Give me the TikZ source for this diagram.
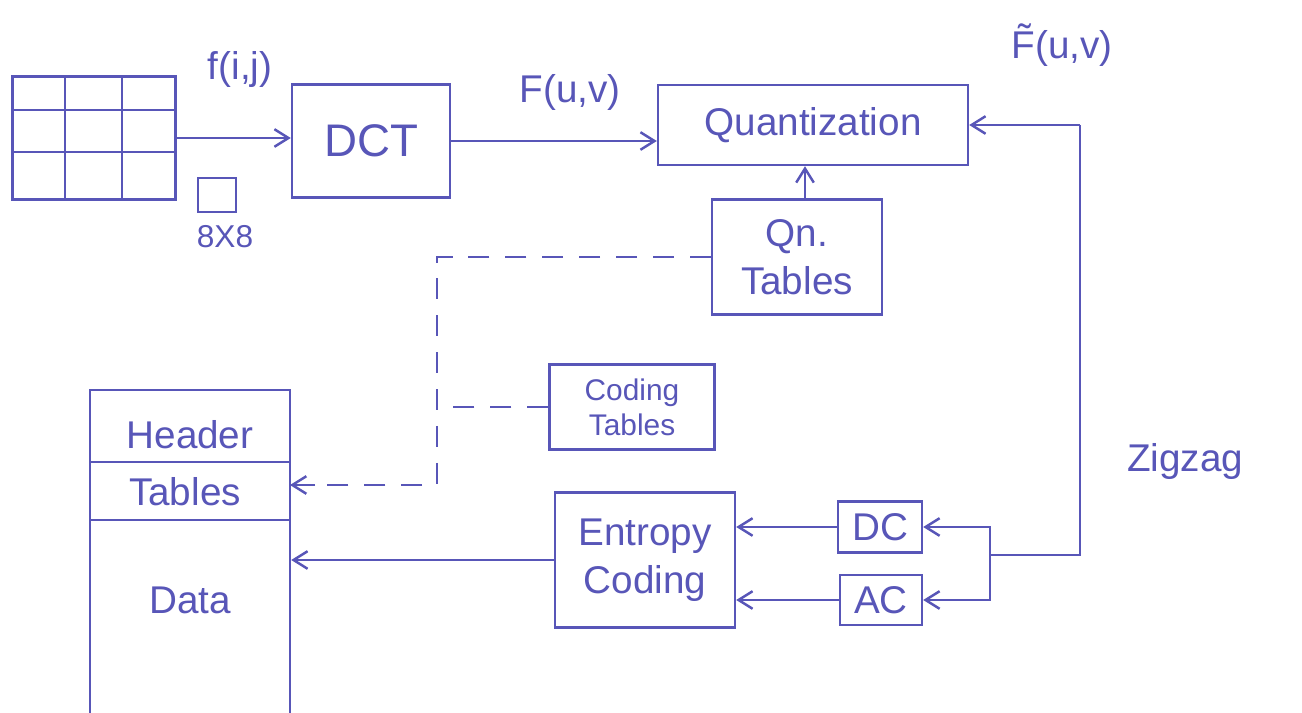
\documentclass[tikz,border=0pt]{standalone}
\usepackage{amsmath}
\usepackage{fontspec}
\setmainfont{Liberation Sans}
\usetikzlibrary{arrows.meta}
\definecolor{ink}{RGB}{88,86,184}

\begin{document}
\begin{tikzpicture}[x=0.02cm, y=-0.02cm, line width=1.4pt, draw=ink, text=ink]
    % Style definitions
    \tikzset{
        % boxes of the pipeline
        stage/.style={draw=ink, rectangle, align=center, inner sep=2pt,
            font=\fontsize{22}{27}\selectfont},
        % arrows
        flow/.style={-{Straight Barb[length=8pt, width=10pt]}, draw=ink},
        % dashed table links
        tablelink/.style={dashed, dash pattern=on 12pt off 9pt, draw=ink},
        % free labels
        tag/.style={text=ink, font=\fontsize{22}{27}\selectfont}
    }
    \clip (0,0) rectangle (1302,713);
    \fill[white] (0,0) rectangle (1302,713);

    % Image block grid
    \node[stage, minimum width=3.26cm, minimum height=2.46cm] (grid) at (94,138) {};
    \draw (65,77) -- (65,200);
    \draw (122,77) -- (122,200);
    \draw (12,110) -- (175,110);
    \draw (12,152) -- (175,152);
    \draw (198,178) rectangle (236,212);
    \node[tag] (fij) at (240,70) {f(i,j)};
    \node[tag, font=\fontsize{18}{22}\selectfont] (size) at (225,237) {8X8};

    % First row of boxes
    \node[stage, minimum width=3.16cm, minimum height=2.26cm,
        font=\fontsize{26}{30}\selectfont] (DCT) at (371,141) {DCT};
    \node[stage, minimum width=6.2cm, minimum height=1.6cm] (Quant) at (813,125) {Quantization};
    \node[tag] (Fuv) at (570,92) {F(u,v)};
    \node[tag] (Ftuv) at (1062,45) {F̃(u,v)};

    % Table boxes
    \node[stage, minimum width=3.4cm, minimum height=2.3cm] (Qn) at (797,257) {Qn.\\Tables};
    \node[stage, minimum width=3.3cm, minimum height=1.7cm,
        font=\fontsize{17}{20}\selectfont] (Coding) at (632,407) {Coding\\Tables};

    % Output file
    \node[stage, minimum width=4cm, minimum height=6.6cm] (File) at (190,555) {};
    \draw (90,462) -- (290,462);
    \draw (90,520) -- (290,520);
    \node[tag] (Header) at (190,435) {Header};
    \node[tag] (Tables) at (185,492) {Tables};
    \node[tag] (Data) at (190,600) {Data};

    % Entropy coding row
    \node[stage, minimum width=3.6cm, minimum height=2.7cm] (Ent) at (645,560) {Entropy\\Coding};
    \node[stage, minimum width=1.68cm, minimum height=1.02cm] (DC) at (880,527) {DC};
    \node[stage, minimum width=1.64cm, minimum height=1cm] (AC) at (881,600) {AC};
    \node[tag] (zz) at (1185,462) {Zigzag};

    % Edges between boxes
    \draw[flow] (grid.east) -- (grid.east -| DCT.west);
    \draw[flow] (DCT.east) -- (DCT.east -| Quant.west);
    \draw[flow] (Qn.north -| 805,0) -- (Quant.south -| 805,0);

    \coordinate (zzTop) at (1080,125);
    \coordinate (zzBot) at (1080,555);
    \coordinate (split) at (990,555);
    \draw[flow] (zzTop) -- (Quant.east);
    \draw (zzTop) -- (zzBot) -- (split);
    \draw[flow] (split) |- (DC.east);
    \draw[flow] (split) |- (AC.east);

    \draw[flow] (DC.west) -- (DC.west -| Ent.east);
    \draw[flow] (AC.west) -- (AC.west -| Ent.east);
    \draw[flow] (Ent.west) -- (Ent.west -| File.east);

    % Dashed links to the header tables
    \coordinate (bend) at (437,257);
    \coordinate (tblIn) at (290,485);
    \draw[tablelink] (Qn.west) -- (bend) |- (tblIn);
    \draw[tablelink] (Coding.west) -- (Coding.west -| bend);
    \draw[flow] (tblIn) ++(25,0) -- (tblIn);
\end{tikzpicture}
\end{document}
